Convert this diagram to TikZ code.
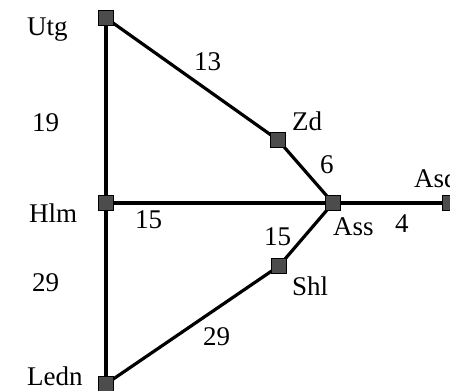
\documentclass[tikz,border=0pt]{standalone}
\usepackage{fontspec}
\setmainfont{Liberation Serif}
\begin{document}
\begin{tikzpicture}[x=1pt,y=-1pt,
  station/.style={rectangle,draw=black,line width=0.6pt,fill=black!70,minimum size=15pt,inner sep=0pt},
  track/.style={line width=3.2pt,black},
  lbl/.style={anchor=base west,inner sep=0pt,font=\fontsize{27}{32}\selectfont}]
\useasboundingbox (0,0) rectangle (450,391);
\clip (0,0) rectangle (450,391);
% stations
\coordinate (pUtg) at (106,18);
\coordinate (pZd) at (278,140);
\coordinate (pAss) at (333,203);
\coordinate (pAsd) at (450,203);
\coordinate (pHlm) at (106,203);
\coordinate (pShl) at (279,266);
\coordinate (pLedn) at (106,384);
% tracks
\draw[track] (pUtg) -- (pHlm);
\draw[track] (pHlm) -- (pLedn);
\draw[track] (pUtg) -- (pZd);
\draw[track] (pZd) -- (pAss);
\draw[track] (pHlm) -- (pAss);
\draw[track] (pAss) -- (pAsd);
\draw[track] (pAss) -- (pShl);
\draw[track] (pShl) -- (pLedn);
% station squares
\node[station] (Utg) at (pUtg) {};
\node[station] (Zd) at (pZd) {};
\node[station] (Ass) at (pAss) {};
\node[station] (Asd) at (pAsd) {};
\node[station] (Hlm) at (pHlm) {};
\node[station] (Shl) at (pShl) {};
\node[station] (Ledn) at (pLedn) {};
% names
\node[lbl] (tUtg) at (27,35) {Utg};
\node[lbl] (tZd) at (292,130) {Zd};
\node[lbl] (tAss) at (333,235) {Ass};
\node[lbl] (tAsd) at (414,187) {Asd};
\node[lbl] (tHlm) at (29,222) {Hlm};
\node[lbl] (tShl) at (292,295) {Shl};
\node[lbl] (tLedn) at (27,385) {Ledn};
% distances
\node[lbl] (d1) at (32,131) {19};
\node[lbl] (d2) at (32,291) {29};
\node[lbl] (d3) at (194,70) {13};
\node[lbl] (d4) at (320,173) {6};
\node[lbl] (d5) at (135,228) {15};
\node[lbl] (d6) at (395,232) {4};
\node[lbl] (d7) at (264,245) {15};
\node[lbl] (d8) at (203,345) {29};
\end{tikzpicture}
\end{document}
